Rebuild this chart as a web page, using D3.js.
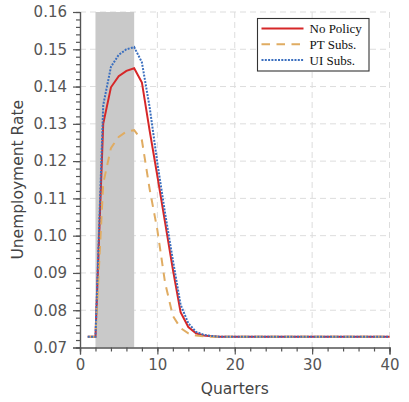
<!DOCTYPE html>
<html>
<head>
<meta charset="utf-8">
<script src="https://cdn.jsdelivr.net/npm/d3@7"></script>
<style>
	body { margin: 0; background: #fff; }
	svg { display: block; }
	.tick text { font-family: "DejaVu Sans", sans-serif; font-size: 15px; fill: #555; }
	.grid line { stroke: #ddd; stroke-dasharray: 6,4; stroke-width: 1; }
	.legend text { font-family: "Liberation Serif", serif; font-size: 13px; fill: #111; }
</style>
</head>
<body>
<div id="chart"></div>
<script>
// quarters on the x axis
var quarters = d3.range(1, 41);

// unemployment rate per quarter
var noPolicy = [0.0729, 0.0729, 0.1300, 0.1398, 0.1428, 0.1442, 0.1449, 0.1411, 0.1282, 0.1160,
	0.1035, 0.0910, 0.0795, 0.0755, 0.0738, 0.0732, 0.0730, 0.0729, 0.0729, 0.0729,
	0.0729, 0.0729, 0.0729, 0.0729, 0.0729, 0.0729, 0.0729, 0.0729, 0.0729, 0.0729,
	0.0729, 0.0729, 0.0729, 0.0729, 0.0729, 0.0729, 0.0729, 0.0729, 0.0729, 0.0729];
var ptSubs = [0.0729, 0.0729, 0.1140, 0.1235, 0.1265, 0.1279, 0.1283, 0.1256, 0.1125, 0.1015,
	0.0873, 0.0785, 0.0752, 0.0738, 0.0732, 0.0730, 0.0729, 0.0729, 0.0729, 0.0729,
	0.0729, 0.0729, 0.0729, 0.0729, 0.0729, 0.0729, 0.0729, 0.0729, 0.0729, 0.0729,
	0.0729, 0.0729, 0.0729, 0.0729, 0.0729, 0.0729, 0.0729, 0.0729, 0.0729, 0.0729];
var uiSubs = [0.0729, 0.0729, 0.1350, 0.1453, 0.1485, 0.1500, 0.1506, 0.1465, 0.1345, 0.1195,
	0.1060, 0.0935, 0.0815, 0.0765, 0.0742, 0.0734, 0.0731, 0.0729, 0.0729, 0.0729,
	0.0729, 0.0729, 0.0729, 0.0729, 0.0729, 0.0729, 0.0729, 0.0729, 0.0729, 0.0729,
	0.0729, 0.0729, 0.0729, 0.0729, 0.0729, 0.0729, 0.0729, 0.0729, 0.0729, 0.0729];

var seriesNames = ["No Policy", "PT Subs.", "UI Subs."];
var xTicks = [0, 10, 20, 30, 40];
var yTicks = [0.07, 0.08, 0.09, 0.10, 0.11, 0.12, 0.13, 0.14, 0.15, 0.16];
var recession = [2, 7];

var width = 409, height = 402;
var margin = {top: 12, right: 19.5, bottom: 54.5, left: 80};
var w = width - margin.left - margin.right;
var h = height - margin.top - margin.bottom;

var svg = d3.select("#chart")
	.append("svg")
	.attr("width", width)
	.attr("height", height);

var g = svg.append("g")
	.attr("transform", "translate(" + margin.left + "," + margin.top + ")");

var x = d3.scaleLinear().domain([0, 40]).range([0, w]);
var y = d3.scaleLinear().domain([0.07, 0.16]).range([h, 0]);

// grid
var grid = g.append("g").attr("class", "grid");
grid.selectAll(".gx")
	.data(xTicks.slice(1))
	.enter().append("line")
	.attr("x1", function(d) { return x(d); })
	.attr("x2", function(d) { return x(d); })
	.attr("y1", 0).attr("y2", h);
grid.selectAll(".gy")
	.data(yTicks.slice(1))
	.enter().append("line")
	.attr("x1", 0).attr("x2", w)
	.attr("y1", function(d) { return y(d); })
	.attr("y2", function(d) { return y(d); });

// shaded period
g.append("rect")
	.attr("x", x(recession[0]))
	.attr("width", x(recession[1]) - x(recession[0]))
	.attr("y", 0)
	.attr("height", h)
	.attr("fill", "#c9c9c9");

// lines
var line = d3.line()
	.x(function(d, i) { return x(quarters[i]); })
	.y(function(d) { return y(d); });

var styles = [
	{data: noPolicy, color: "#d62728", dash: null},
	{data: ptSubs, color: "#e0ac62", dash: "8.5,6.5"},
	{data: uiSubs, color: "#3b6fbf", dash: "2,1.3"}
];

g.selectAll(".series")
	.data(styles)
	.enter().append("path")
	.attr("class", "series")
	.attr("d", function(d) { return line(d.data); })
	.attr("fill", "none")
	.attr("stroke", function(d) { return d.color; })
	.attr("stroke-width", 2)
	.attr("stroke-dasharray", function(d) { return d.dash; });

// axes
var xAxis = g.append("g")
	.attr("transform", "translate(0," + h + ")")
	.call(d3.axisBottom(x).tickValues(xTicks).tickFormat(d3.format("d")).tickSize(7).tickPadding(5));
var xMinor = g.append("g")
	.attr("transform", "translate(0," + h + ")")
	.call(d3.axisBottom(x).tickValues(d3.range(0, 41, 2)).tickFormat("").tickSize(4));

var yAxis = g.append("g")
	.call(d3.axisLeft(y).tickValues(yTicks).tickFormat(d3.format(".2f")).tickSize(7).tickPadding(6));
var yMinor = g.append("g")
	.call(d3.axisLeft(y).tickValues(d3.range(70, 161, 2).map(function(v) { return v / 1000; })).tickFormat("").tickSize(4));

[xAxis, xMinor, yAxis, yMinor].forEach(function(a) {
	a.selectAll("path").attr("stroke", "#555").attr("stroke-width", 1.2);
	a.selectAll("line").attr("stroke", "#555").attr("stroke-width", 1.2);
});

// axis titles
svg.append("text")
	.attr("x", margin.left + w / 2)
	.attr("y", 394)
	.attr("text-anchor", "middle")
	.style("font-family", "DejaVu Sans, sans-serif")
	.style("font-size", "15.5px")
	.attr("fill", "#444")
	.text("Quarters");

svg.append("text")
	.attr("transform", "translate(23," + (margin.top + h / 2) + ") rotate(-90)")
	.attr("text-anchor", "middle")
	.style("font-family", "DejaVu Sans, sans-serif")
	.style("font-size", "15.5px")
	.attr("fill", "#444")
	.text("Unemployment Rate");

// legend
var legend = svg.append("g").attr("class", "legend")
	.attr("transform", "translate(257.5,18.5)");
legend.append("rect")
	.attr("width", 111.5).attr("height", 52.5)
	.attr("fill", "#fff")
	.attr("stroke", "#333")
	.attr("stroke-width", 1.1);
var items = legend.selectAll(".item")
	.data(styles)
	.enter().append("g")
	.attr("transform", function(d, i) { return "translate(0," + (10 + i * 15.8) + ")"; });
items.append("line")
	.attr("x1", 4).attr("x2", 46)
	.attr("stroke", function(d) { return d.color; })
	.attr("stroke-width", 2)
	.attr("stroke-dasharray", function(d) { return d.dash; });
items.append("text")
	.attr("x", 52)
	.attr("y", 4.5)
	.text(function(d, i) { return seriesNames[i]; });
</script>
</body>
</html>
